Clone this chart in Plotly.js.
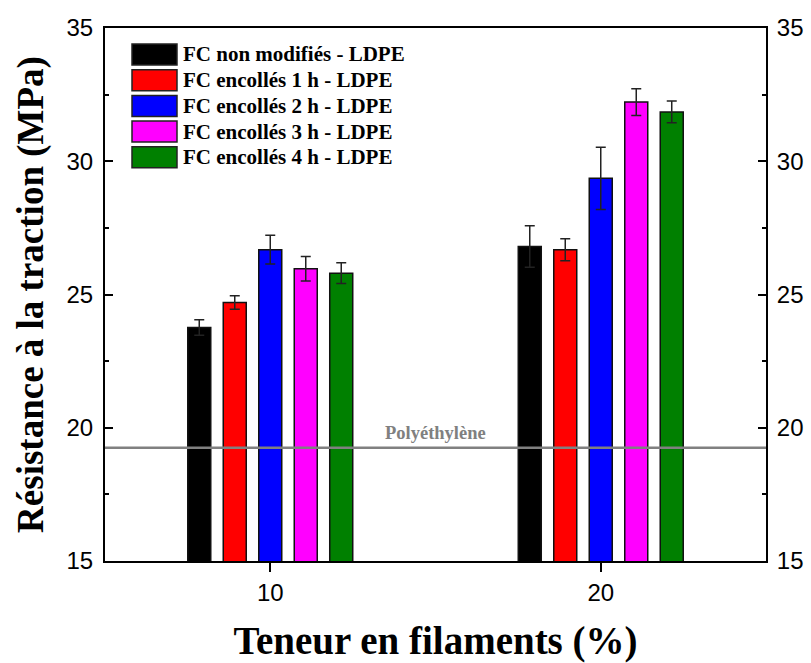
<!DOCTYPE html>
<html>
<head>
<meta charset="utf-8">
<script src="https://cdn.plot.ly/plotly-3.0.1.min.js"></script>
<style>html,body{margin:0;padding:0;background:#fff;}#chart{width:811px;height:663px;}</style>
</head>
<body>
<div id="chart"></div>
<script>
// ---- data ----
const contents = [10, 20];
const seriesNames = [
  "FC non modifiés - LDPE",
  "FC encollés 1 h - LDPE",
  "FC encollés 2 h - LDPE",
  "FC encollés 3 h - LDPE",
  "FC encollés 4 h - LDPE"
];
const seriesColors = ["#000000", "#ff0000", "#0000ff", "#ff00ff", "#008000"];
const valNonMod = [23.76, 26.80];
const val1h = [24.70, 26.68];
const val2h = [26.68, 29.36];
const val3h = [25.97, 32.22];
const val4h = [25.80, 31.85];
const errNonMod = [0.29, 0.78];
const err1h = [0.25, 0.41];
const err2h = [0.54, 1.17];
const err3h = [0.46, 0.50];
const err4h = [0.39, 0.41];
const polyethylene = 19.25;
const polyLabel = "Polyéthylène";
const yTicks = [15, 20, 25, 30, 35];

const values = [valNonMod, val1h, val2h, val3h, val4h];
const errors = [errNonMod, err1h, err2h, err3h, err4h];

// ---- layout geometry ----
const W = 811, H = 663;
const M = {l: 105, r: 45, t: 28, b: 102};
const pw = W - M.l - M.r, ph = H - M.t - M.b;
const px = x => (x - M.l) / pw;
const py = y => (H - M.b - y) / ph;

const serif = "Liberation Serif, Times New Roman, serif";
const sans = "Liberation Sans, Arial, sans-serif";

const traces = seriesNames.map((name, i) => ({
  type: "bar",
  name: name,
  x: contents,
  y: values[i],
  marker: {color: seriesColors[i], line: {color: "#111", width: 1.5}},
  error_y: {type: "data", array: errors[i], visible: true, color: "#222", thickness: 1.5, width: 5},
  showlegend: false
}));
// carrier trace for the mirrored right axis
traces.push({type: "scatter", x: [null], y: [null], yaxis: "y2", showlegend: false, hoverinfo: "skip"});

const shapes = [{
  type: "line", xref: "paper", x0: 0, x1: 1, yref: "y", y0: polyethylene, y1: polyethylene,
  line: {color: "#808080", width: 2.5}
}];
const annotations = [{
  x: 15, y: polyethylene, xref: "x", yref: "y", text: polyLabel, showarrow: false,
  yanchor: "bottom", yshift: 3, font: {family: serif, size: 18.5, color: "#808080", weight: "bold"}
}];

// manual legend with large swatches
seriesNames.forEach((name, i) => {
  const top = 44 + i * 25.7;
  shapes.push({
    type: "rect", xref: "paper", yref: "paper",
    x0: px(132), x1: px(177), y0: py(top + 21), y1: py(top),
    fillcolor: seriesColors[i], line: {color: "#222", width: 1.5}
  });
  annotations.push({
    xref: "paper", yref: "paper", x: px(181), y: py(top + 10.5),
    xanchor: "left", yanchor: "middle", showarrow: false, text: name,
    font: {family: serif, size: 21, color: "#000", weight: "bold"}
  });
});

const yAxisCommon = {
  range: [15, 35], tickvals: yTicks, ticks: "inside", ticklen: 8, tickwidth: 2,
  tickcolor: "#000", showline: true, linecolor: "#000", linewidth: 2,
  showgrid: false, zeroline: false, ticklabelstandoff: 5,
  minor: {dtick: 2.5, ticks: "inside", ticklen: 4, tickwidth: 2, tickcolor: "#000", showgrid: false},
  tickfont: {family: sans, size: 24, color: "#000"}
};

const layout = {
  width: W, height: H,
  margin: M,
  paper_bgcolor: "#fff", plot_bgcolor: "#fff",
  barmode: "group", bargap: 0.463, bargroupgap: 0.352,
  xaxis: {
    range: [5, 25], tickvals: contents, ticks: "outside", ticklen: 9, tickwidth: 2,
    tickcolor: "#000", showline: true, linecolor: "#000", linewidth: 2, mirror: true,
    showgrid: false, zeroline: false,
    tickfont: {family: sans, size: 24, color: "#000"},
    title: {text: "Teneur en filaments (%)", standoff: 24, font: {family: serif, size: 39, color: "#000", weight: "bold"}}
  },
  yaxis: Object.assign({}, yAxisCommon, {
    title: {text: "Résistance à la traction (MPa)", standoff: 12, font: {family: serif, size: 37, color: "#000", weight: "bold"}}
  }),
  yaxis2: Object.assign({}, yAxisCommon, {overlaying: "y", side: "right", ticklabelstandoff: 4}),
  shapes: shapes,
  annotations: annotations
};

Plotly.newPlot("chart", traces, layout, {displayModeBar: false, staticPlot: true});
</script>
</body>
</html>
